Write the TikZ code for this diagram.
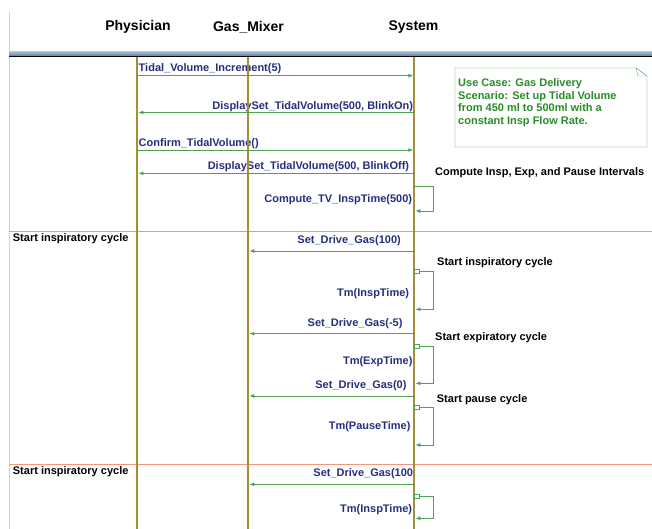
\documentclass[tikz,border=0pt]{standalone}
\usepackage{fontspec}
\setmainfont{Liberation Sans}
\usetikzlibrary{arrows.meta}
\definecolor{lifeolive}{RGB}{165,142,58}
\definecolor{msggreen}{RGB}{80,162,80}
\definecolor{lblnavy}{RGB}{38,46,128}
\definecolor{notegreen}{RGB}{60,155,60}
\definecolor{notetext}{RGB}{40,140,40}
\definecolor{cycorange}{RGB}{245,150,120}
\definecolor{bandtop}{RGB}{160,185,210}
\definecolor{bandbot}{RGB}{95,125,160}
\begin{document}
\begin{tikzpicture}[x=1pt, y=-1pt,
	head/.style={font=\fontsize{14}{16}\selectfont\bfseries, inner sep=0pt},
	lifeline/.style={draw=lifeolive, line width=2pt},
	msg/.style={draw=msggreen, line width=0.9pt, shorten >=1pt, -{Latex[length=5pt,width=4pt]}},
	lbl/.style={text=lblnavy, font=\fontsize{11}{12}\selectfont\bfseries, inner sep=0pt},
	cyc/.style={text=black, font=\fontsize{11}{12}\selectfont\bfseries, inner sep=0pt},
	cycline/.style={draw=cycorange, line width=1.6pt},
	startbox/.style={draw=msggreen, line width=0.9pt, fill=white}]
	\useasboundingbox (0,0) rectangle (652,529);
	\draw[draw=gray!35, thin, solid] (9,12) -- (9,529);
	\node[head] (phy) at (138,27) {Physician};
	\node[head] (gas) at (248.5,27) {Gas\_Mixer};
	\node[head] (sys) at (413.5,27) {System};
	\shade[top color=bandtop, bottom color=bandbot] (9,52) rectangle (652,56);
	\draw[draw=black, line width=0.8pt, solid] (9,56.6) -- (652,56.6);
	\coordinate (phytop) at (137.3,57);
	\coordinate (gastop) at (248.3,57);
	\coordinate (systop) at (414.3,57);
	\coordinate (phyend) at (137.3,529);
	\coordinate (gasend) at (248.3,529);
	\coordinate (sysend) at (414.3,529);
	\draw[cycline] (9,231.5) -- (652,231.5);
	\draw[cycline] (9,464.3) -- (652,464.3);
	\node[cyc, anchor=west] (cycA) at (12.7,238.3) {Start inspiratory cycle};
	\node[cyc, anchor=west] (cycB) at (12.7,472) {Start inspiratory cycle};
	\draw[draw=notegreen, thin, solid, fill=white] (455,68) -- (636,68) -- (647,76) -- (647,147) -- (455,147) -- cycle;
	\draw[draw=notegreen!70, thin, solid] (636,68) -- (638,76) -- (647,76);
	\node[text=notetext, font=\fontsize{11}{12.5}\selectfont\bfseries, align=left, anchor=north west, inner sep=0pt] (note) at (458,78.5) {Use Case: Gas Delivery\\Scenario: Set up Tidal Volume\\from 450 ml to 500ml with a\\constant Insp Flow Rate.};
	\node[cyc, anchor=west] (cmpA) at (435,172.7) {Compute Insp, Exp, and Pause Intervals};
	\node[cyc, anchor=west] (cmpB) at (437,263) {Start inspiratory cycle};
	\node[cyc, anchor=west] (cmpC) at (435,337.7) {Start expiratory cycle};
	\node[cyc, anchor=west] (cmpD) at (436.7,399.7) {Start pause cycle};
	\node[lbl, anchor=west] (lblA) at (138.5,69) {Tidal\_Volume\_Increment(5)};
	\node[lbl, anchor=east] (lblB) at (413.3,106.7) {DisplaySet\_TidalVolume(500, BlinkOn)};
	\node[lbl, anchor=west] (lblC) at (138.5,144) {Confirm\_TidalVolume()};
	\node[lbl, anchor=east] (lblD) at (409.3,166.7) {DisplaySet\_TidalVolume(500, BlinkOff)};
	\node[lbl, anchor=east] (lblE) at (412.3,199.3) {Compute\_TV\_InspTime(500)};
	\node[lbl, anchor=east] (lblF) at (401,241) {Set\_Drive\_Gas(100)};
	\node[lbl, anchor=east] (lblG) at (409.3,293.3) {Tm(InspTime)};
	\node[lbl, anchor=east] (lblH) at (402.7,324) {Set\_Drive\_Gas(-5)};
	\node[lbl, anchor=east] (lblI) at (412.7,361.7) {Tm(ExpTime)};
	\node[lbl, anchor=east] (lblJ) at (406.7,385.7) {Set\_Drive\_Gas(0)};
	\node[lbl, anchor=east] (lblK) at (410.7,426.7) {Tm(PauseTime)};
	\node[lbl, anchor=east] (lblL) at (413.3,473.3) {Set\_Drive\_Gas(100};
	\node[lbl, anchor=east] (lblM) at (412.3,509.3) {Tm(InspTime)};
	\draw[lifeline] (phytop) -- (phyend);
	\draw[lifeline] (gastop) -- (gasend);
	\draw[lifeline] (systop) -- (sysend);
	\draw[msg] (phytop |- 0,75.7) -- (systop |- 0,75.7);
	\draw[msg] (systop |- 0,112.5) -- (phytop |- 0,112.5);
	\draw[msg] (phytop |- 0,150) -- (systop |- 0,150);
	\draw[msg] (systop |- 0,173.3) -- (phytop |- 0,173.3);
	\draw[msg] (systop |- 0,186) -| (433,211) -- (systop |- 0,211);
	\draw[msg] (systop |- 0,251) -- (gastop |- 0,251);
	\draw[msg] (systop |- 0,271.7) -| (433,309.3) -- (systop |- 0,309.3);
	\draw[startbox] (414.3,269.7) rectangle (419.8,273.7);
	\draw[msg] (systop |- 0,333.7) -- (gastop |- 0,333.7);
	\draw[msg] (systop |- 0,346.7) -| (433,383.3) -- (systop |- 0,383.3);
	\draw[startbox] (414.3,344.7) rectangle (419.8,348.7);
	\draw[msg] (systop |- 0,396) -- (gastop |- 0,396);
	\draw[msg] (systop |- 0,407.7) -| (433,445) -- (systop |- 0,445);
	\draw[startbox] (414.3,405.7) rectangle (419.8,409.7);
	\draw[msg] (systop |- 0,484.3) -- (gastop |- 0,484.3);
	\draw[msg] (systop |- 0,496.7) -| (433,518.3) -- (systop |- 0,518.3);
	\draw[startbox] (414.3,494.7) rectangle (419.8,498.7);
\end{tikzpicture}
\end{document}
